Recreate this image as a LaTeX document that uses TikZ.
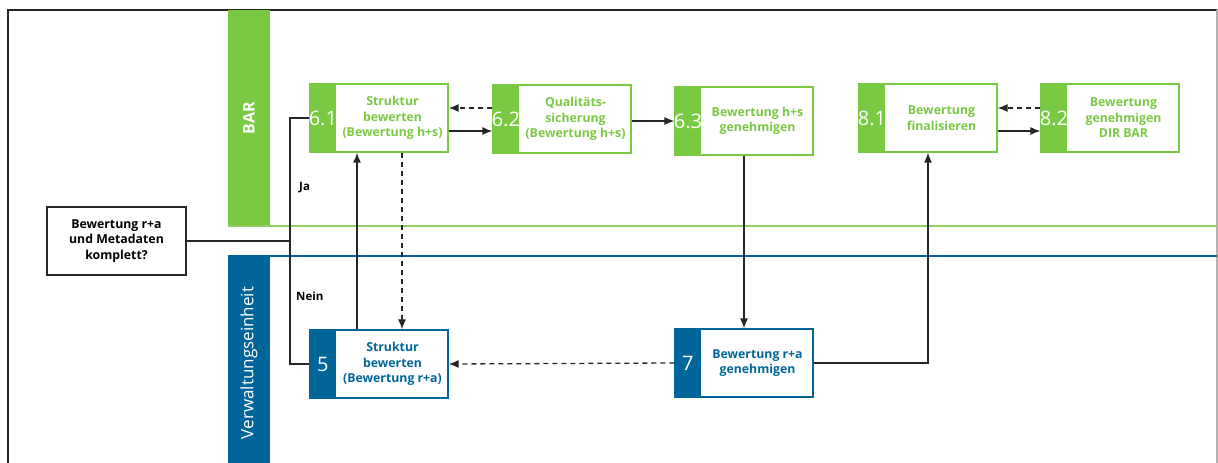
\documentclass[tikz,border=0pt]{standalone}
\usepackage{fontspec}
\setmainfont{Open Sans}
\usetikzlibrary{arrows.meta}
\definecolor{bargreen}{RGB}{122,201,67}
\definecolor{boxgreen}{RGB}{140,208,95}
\definecolor{veblue}{RGB}{0,102,153}
\tikzset{
  procbox/.style={draw=#1, line width=1.2pt, fill=white, minimum width=138pt, minimum height=68pt, inner sep=0pt},
  numtext/.style={text=white, font=\fontsize{20}{22}\selectfont, inner sep=0pt},
  proctext/.style={font=\bfseries\fontsize{12.3}{15.5}\selectfont, align=center, inner sep=0pt},
  conn/.style={line width=1.3pt, black!85},
  arr/.style={conn, -{Latex[length=10pt,width=8pt]}},
  darr/.style={arr, dash pattern=on 5pt off 4pt},
  lbl/.style={font=\bfseries\fontsize{11.5}{13}\selectfont, inner sep=0pt},
}
\newcommand\procnode[6]{%
  \node[procbox=#4] (#1) at (#2,#3) {};
  \fill[#4] (#1.north west) rectangle ([xshift=27pt]#1.south west);
  \node[numtext] (#1num) at ([xshift=13.5pt]#1.west) {#5};
  \node[proctext, text=#4] (#1txt) at ([xshift=13.5pt]#1.center) {#6};
}
\begin{document}
\begin{tikzpicture}[x=1pt,y=-1pt]
\useasboundingbox (0,0) rectangle (1218,463);
% frame
\draw[line width=1.3pt, black!85] (8,463) -- (8,10) -- (1217,10);
\draw[gray!60, line width=1.2pt] (1217,10) -- (1217,463);
% lanes
\fill[bargreen] (228,10) rectangle (270,226);
\draw[boxgreen, line width=1.2pt] (228,226) -- (1217,226);
\node[rotate=90, text=white, font=\bfseries\fontsize{16}{18}\selectfont] (barlbl) at (249,118) {BAR};
\fill[veblue] (228,256) rectangle (270,463);
\draw[veblue, line width=1.2pt] (228,256) -- (1217,256);
\node[rotate=90, text=white, font=\fontsize{17}{18}\selectfont] (velbl) at (249,363) {Verwaltungseinheit};
% decision
\node[draw, line width=1.3pt, black!85, text=black, minimum width=139pt, minimum height=68pt, inner sep=0pt, align=center, font=\bfseries\fontsize{12.3}{15.5}\selectfont] (dec) at (116.5,241) {Bewertung r+a\\und Metadaten\\komplett?};
% processes
\procnode{n61}{379}{118}{bargreen}{6.1}{Struktur\\bewerten\\(Bewertung h+s)}
\procnode{n62}{562}{119}{bargreen}{6.2}{Qualitäts-\\sicherung\\(Bewertung h+s)}
\procnode{n63}{744}{121}{bargreen}{6.3}{Bewertung h+s\\genehmigen}
\procnode{n81}{928}{118}{bargreen}{8.1}{Bewertung\\finalisieren}
\procnode{n82}{1110}{118}{bargreen}{8.2}{Bewertung\\genehmigen\\DIR BAR}
\procnode{n5}{379}{364}{veblue}{5}{Struktur\\bewerten\\(Bewertung r+a)}
\procnode{n7}{744}{363}{veblue}{7}{Bewertung r+a\\genehmigen}
% decision branches
\coordinate (j) at (290,241);
\draw[conn] (dec.east) -- (j);
\draw[conn] (j) |- (n61.west);
\draw[conn] (j) |- (n5.west);
\node[lbl, anchor=west] (ja) at (299,188) {Ja};
\node[lbl, anchor=west] (nein) at (296,296) {Nein};
% arrows
\draw[darr] (n62.west |- 0,108) -- (n61.east |- 0,108);
\draw[arr] (n61.east |- 0,131) -- (n62.west |- 0,131);
\draw[arr] (n62.east |- 0,121) -- (n63.west |- 0,121);
\draw[arr] ([xshift=-22pt]n5.north) -- ([xshift=-22pt]n61.south);
\draw[darr] ([xshift=23pt]n61.south) -- ([xshift=23pt]n5.north);
\draw[arr] (n63.south) -- (n7.north);
\draw[darr] (n7.west) -- (n5.east);
\draw[arr] (n7.east) -| (n81.south);
\draw[darr] (n82.west |- 0,108) -- (n81.east |- 0,108);
\draw[arr] (n81.east |- 0,131) -- (n82.west |- 0,131);
\end{tikzpicture}
\end{document}
